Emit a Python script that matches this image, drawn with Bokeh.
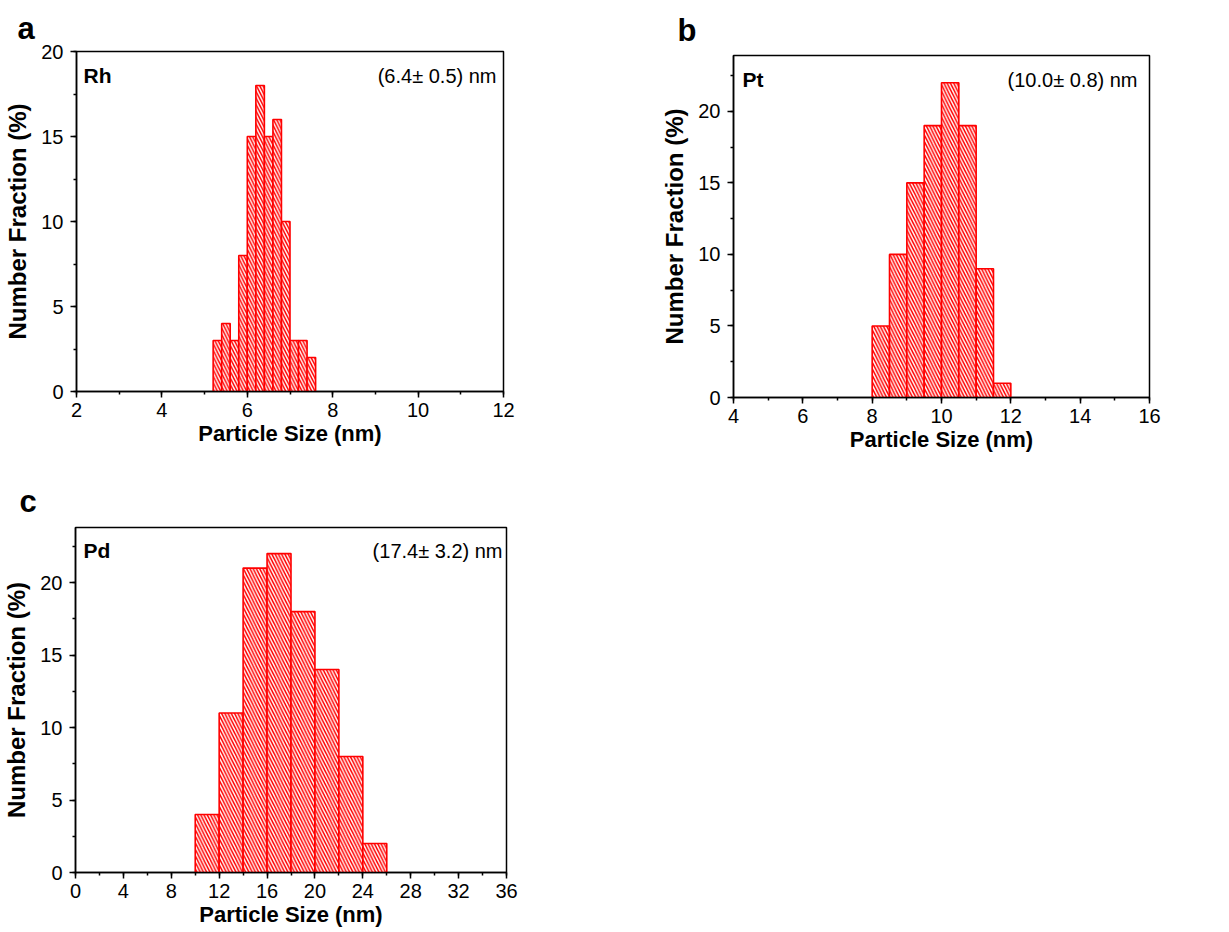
from bokeh.plotting import figure
from bokeh.models import Range1d, SingleIntervalTicker, Label
from bokeh.layouts import column, row
from bokeh.embed import file_html
from bokeh.resources import INLINE

# ---- data ----
rh_left = [5.2, 5.4, 5.6, 5.8, 6.0, 6.2, 6.4, 6.6, 6.8, 7.0, 7.2, 7.4]
rh_right = [5.4, 5.6, 5.8, 6.0, 6.2, 6.4, 6.6, 6.8, 7.0, 7.2, 7.4, 7.6]
rh_frac = [3, 4, 3, 8, 15, 18, 15, 16, 10, 3, 3, 2]

pt_left = [8.0, 8.5, 9.0, 9.5, 10.0, 10.5, 11.0, 11.5]
pt_right = [8.5, 9.0, 9.5, 10.0, 10.5, 11.0, 11.5, 12.0]
pt_frac = [5, 10, 15, 19, 22, 19, 9, 1]

pd_left = [10, 12, 14, 16, 18, 20, 22, 24]
pd_right = [12, 14, 16, 18, 20, 22, 24, 26]
pd_frac = [4, 11, 21, 22, 18, 14, 8, 2]

FONT = "Liberation Sans"
RED = "#ff0000"


def panel(width, height, borders, xr, yr, xint, yint, left, right, top,
          metal, note, letter, metal_px, note_px, letter_offset, letter_standoff):
    bl, br, bt, bb = borders
    fw = width - bl - br
    fh = height - bt - bb
    p = figure(width=width, height=height, output_backend="svg",
               toolbar_location=None, x_range=Range1d(*xr), y_range=Range1d(*yr),
               min_border_left=bl, min_border_right=br,
               min_border_top=bt, min_border_bottom=bb)
    p.grid.visible = False
    p.outline_line_color = "black"
    p.outline_line_width = 1.5
    p.background_fill_color = "white"
    p.border_fill_color = "white"

    p.quad(left=left, right=right, bottom=0, top=top,
           fill_color="white", line_color=RED, line_width=1.6,
           hatch_pattern="\\", hatch_color=RED, hatch_scale=6.5, hatch_weight=1.5)

    p.xaxis.ticker = SingleIntervalTicker(interval=xint, num_minor_ticks=2)
    p.yaxis.ticker = SingleIntervalTicker(interval=yint, num_minor_ticks=2)
    for ax in (p.xaxis[0], p.yaxis[0]):
        ax.axis_line_color = "black"
        ax.axis_line_width = 1.5
        ax.major_tick_line_width = 1.5
        ax.minor_tick_line_width = 1.5
        ax.major_tick_in = 0
        ax.major_tick_out = 6
        ax.minor_tick_in = 0
        ax.minor_tick_out = 3
        ax.major_label_text_font = FONT
        ax.major_label_text_font_size = "20px"
        ax.major_label_text_color = "black"
        ax.axis_label_text_font = FONT
        ax.axis_label_text_font_style = "bold"
        ax.axis_label_text_color = "black"
    p.xaxis.axis_label_text_font_size = "22px"
    p.yaxis.axis_label_text_font_size = "24px"
    p.xaxis.axis_label = "Particle Size (nm)"
    p.yaxis.axis_label = "Number Fraction (%)"
    p.xaxis.major_label_standoff = 5
    p.xaxis.axis_label_standoff = 1
    p.yaxis.major_label_standoff = 7
    p.yaxis.axis_label_standoff = 7

    def dx(px):
        return xr[0] + px * (xr[1] - xr[0]) / fw

    def dy(px):
        return yr[1] - px * (yr[1] - yr[0]) / fh

    p.add_layout(Label(x=dx(metal_px[0]), y=dy(metal_px[1]), text=metal,
                       text_font=FONT, text_font_size="21px",
                       text_font_style="bold", text_baseline="middle",
                       text_align="left", text_color="black"))
    p.add_layout(Label(x=dx(fw - note_px[0]), y=dy(note_px[1]), text=note,
                       text_font=FONT, text_font_size="20px",
                       text_baseline="middle", text_align="right",
                       text_color="black"))
    p.title.text = letter
    p.title.text_font = FONT
    p.title.text_font_size = "31px"
    p.title.text_font_style = "bold"
    p.title.text_color = "black"
    p.title.align = "left"
    p.title.offset = letter_offset
    p.title.standoff = letter_standoff
    return p


pa = panel(640, 470, (76, 137, 51, 79), (2, 12), (0, 20), 2, 5,
           rh_left, rh_right, rh_frac, "Rh", "(6.4\u00b1 0.5) nm", "a",
           (7, 24), (7, 24), -59, 12)
pb = panel(585, 470, (93, 76, 55, 73), (4, 16), (0, 23.9), 2, 5,
           pt_left, pt_right, pt_frac, "Pt", "(10.0\u00b1 0.8) nm", "b",
           (9, 24), (12, 24), -56, 16)
pc = panel(640, 460, (73, 134, 57, 58), (0, 36), (0, 23.8), 4, 5,
           pd_left, pd_right, pd_frac, "Pd", "(17.4\u00b1 3.2) nm", "c",
           (8, 23), (4, 23), -56, 18)

layout = column(row(column(pa), column(pb)), column(pc))
open("out.html", "w").write(file_html(layout, INLINE))
